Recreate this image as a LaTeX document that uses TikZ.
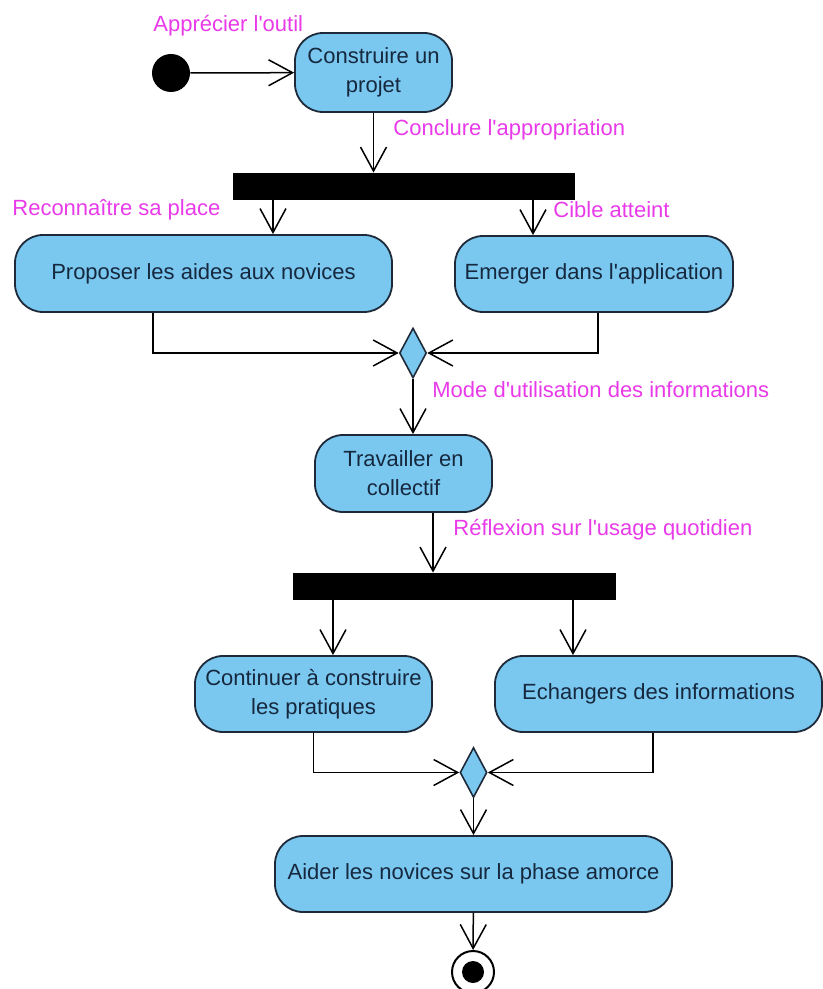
\documentclass[tikz,border=0pt]{standalone}
\usepackage{fontspec}
\setmainfont[Ligatures=TeXOff]{Liberation Sans}
\usepackage{tikz}
\usetikzlibrary{arrows.meta}
\usetikzlibrary{shapes.geometric}
\definecolor{actblue}{RGB}{122,200,240}
\definecolor{actline}{RGB}{30,42,58}
\definecolor{acttext}{RGB}{22,40,62}
\definecolor{guard}{RGB}{232,58,232}
\tikzstyle{act}=[draw=actline, line width=0.9pt, fill=actblue, rounded corners=14pt,
                text=acttext, align=center, inner sep=2pt]
\tikzstyle{bar}=[draw=black, fill=black, inner sep=0, minimum height=13pt]
\tikzstyle{merge}=[diamond, draw=actline, line width=0.8pt, fill=actblue, inner sep=0,
                minimum width=13.5pt, minimum height=25pt]
\tikzstyle{guardlbl}=[text=guard, anchor=west, inner sep=0]
\tikzstyle{flow}=[draw, line width=0.75pt, -{Straight Barb[length=12pt,width=13pt]}]

\begin{document}
\begin{tikzpicture}[x=0.5pt, y=-0.5pt, font=\fontsize{11}{14.5}\selectfont]
\useasboundingbox (0,0) rectangle (823,989);

% start and first action
\node[circle, fill=black, minimum size=19pt, inner sep=0] at (171,73) (init) {};
\node[act, minimum width=78.5pt, minimum height=39.5pt] at (373.5,72.5) (build) {Construire un\\projet};
\node[bar, minimum width=170.5pt] at (403.5,186) (bar1) {};

\node[act, minimum width=188.5pt, minimum height=38.5pt] at (203.5,273.5) (propose) {Proposer les aides aux novices};
\node[act, minimum width=139pt, minimum height=38pt] at (594,274) (emerge) {Emerger dans l'application};
\node[merge] at (413,353) (merge1) {};

\node[act, minimum width=88.5pt, minimum height=38.5pt] at (403.5,473.5) (work) {Travailler en\\collectif};
\node[bar, minimum width=161pt] at (454,586) (bar2) {};

\node[act, minimum width=118.5pt, minimum height=38pt] at (313.5,694) (practice) {Continuer à construire\\les pratiques};
\node[act, minimum width=163.5pt, minimum height=38pt] at (658.5,694) (exchange) {Echangers des informations};
\node[merge] at (473.5,772.5) (merge2) {};

\node[act, minimum width=198.5pt, minimum height=38pt] at (473.5,874) (help) {Aider les novices sur la phase amorce};
\node[draw=black, circle, line width=1pt, minimum size=21pt, inner sep=0] at (473,972) (final) {};
\node[circle, fill=black, minimum size=11pt, inner sep=0] at (final) (finaldot) {};

% guards
\node[guardlbl] at (153,26) (lblappr) {Apprécier l'outil};
\node[guardlbl] at (393,130) (lblconc) {Conclure l'appropriation};
\node[guardlbl] at (12,210) (lblplace) {Reconnaître sa place};
\node[guardlbl] at (553,210) (lblcible) {Cible atteint};
\node[guardlbl] at (432,390) (lblmode) {Mode d'utilisation des informations};
\node[guardlbl] at (453,530) (lblrefl) {Réflexion sur l'usage quotidien};

% flows
\draw[flow] (init) -- (build);
\draw[flow] (build) -- (build |- bar1.north);
\foreach \dx/\tgt in {-65.25pt/propose, 64.75pt/emerge}
{
  \draw[flow] ([xshift=\dx]bar1.south) -- ([xshift=\dx]bar1.south |- \tgt.north);
}
\draw[flow] ([xshift=-25.25pt]propose.south) |- (merge1);
\draw[flow] ([xshift=2pt]emerge.south) |- (merge1);
\draw[flow] (merge1) -- (merge1 |- work.north);
\draw[flow] ([xshift=14.75pt]work.south) -- ([xshift=14.75pt]work.south |- bar2.north);
\foreach \dx/\tgt in {-60.5pt/practice, 59.5pt/exchange}
{
  \draw[flow] ([xshift=\dx]bar2.south) -- ([xshift=\dx]bar2.south |- \tgt.north);
}
\draw[flow] (practice.south) |- (merge2);
\draw[flow] ([xshift=-2.75pt]exchange.south) |- (merge2);
\draw[flow] (merge2) -- (help);
\draw[flow] (help) -- (final);
\end{tikzpicture}
\end{document}
